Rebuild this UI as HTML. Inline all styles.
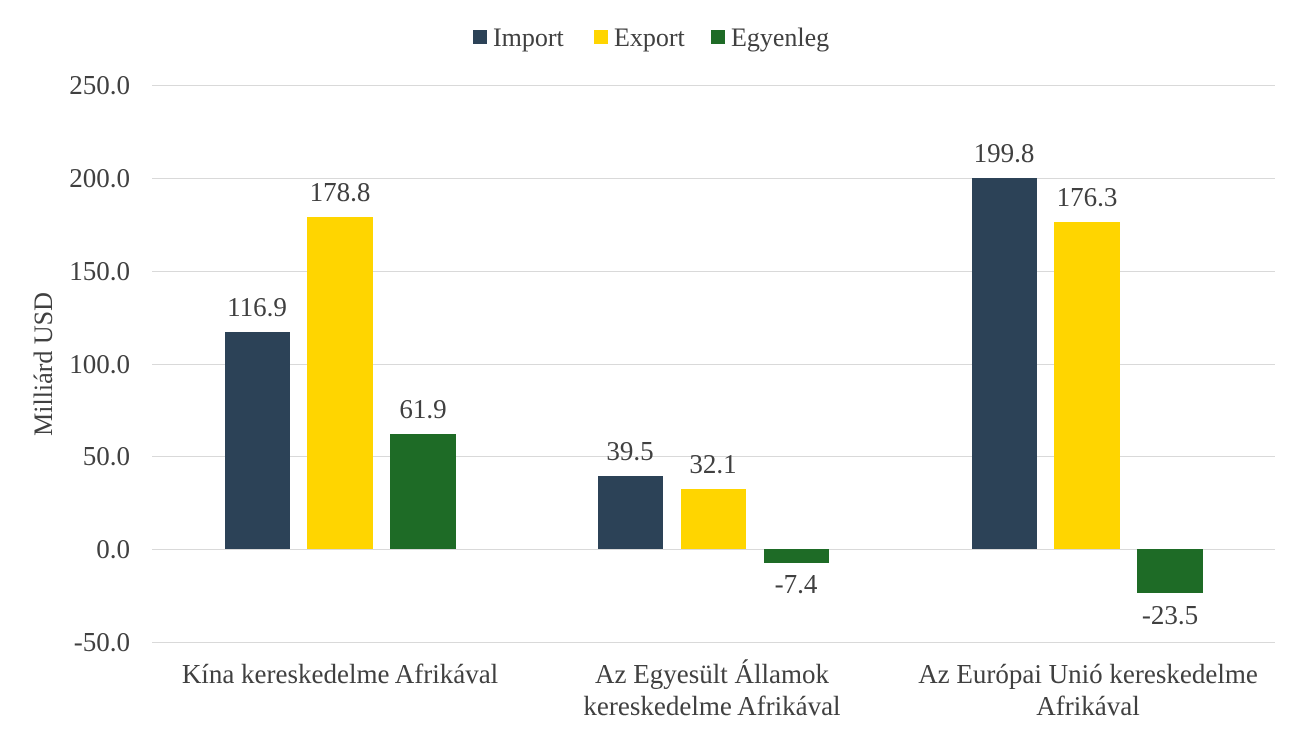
<!DOCTYPE html>
<html><head><meta charset="utf-8"><style>body{margin:0;background:#fff}</style></head><body>
<svg width="1300" height="736" xmlns="http://www.w3.org/2000/svg" font-family="'Liberation Serif',serif" fill="#404040">
<rect width="1300" height="736" fill="#fff"/>
<g stroke="#d9d9d9" stroke-width="1">
<line x1="152" x2="1275" y1="85.5" y2="85.5"/>
<line x1="152" x2="1275" y1="178.5" y2="178.5"/>
<line x1="152" x2="1275" y1="271.5" y2="271.5"/>
<line x1="152" x2="1275" y1="364.5" y2="364.5"/>
<line x1="152" x2="1275" y1="456.5" y2="456.5"/>
<line x1="152" x2="1275" y1="549.5" y2="549.5"/>
<line x1="152" x2="1275" y1="642.5" y2="642.5"/>
</g>
<g font-size="27" text-anchor="end">
<text x="130" y="94">250.0</text>
<text x="130" y="187">200.0</text>
<text x="130" y="280">150.0</text>
<text x="130" y="373">100.0</text>
<text x="130" y="465">50.0</text>
<text x="130" y="558">0.0</text>
<text x="130" y="651">-50.0</text>
</g>
<text transform="translate(52,364) rotate(-90)" font-size="26" text-anchor="middle">Milliárd USD</text>
<g>
<rect x="225" y="332" width="65" height="217" fill="#2C4257"/>
<rect x="307" y="217" width="66" height="332" fill="#FFD500"/>
<rect x="390" y="434" width="66" height="115" fill="#1E6B26"/>
<rect x="598" y="476" width="65" height="73" fill="#2C4257"/>
<rect x="681" y="489" width="65" height="60" fill="#FFD500"/>
<rect x="764" y="549" width="65" height="14" fill="#1E6B26"/>
<rect x="972" y="178" width="65" height="371" fill="#2C4257"/>
<rect x="1054" y="222" width="66" height="327" fill="#FFD500"/>
<rect x="1137" y="549" width="66" height="44" fill="#1E6B26"/>
</g>
<g font-size="27" text-anchor="middle">
<text x="257" y="316">116.9</text>
<text x="340" y="201">178.8</text>
<text x="423" y="418">61.9</text>
<text x="630" y="460">39.5</text>
<text x="713" y="473">32.1</text>
<text x="796" y="593">-7.4</text>
<text x="1004" y="162">199.8</text>
<text x="1087" y="206">176.3</text>
<text x="1170" y="624">-23.5</text>
<text x="340" y="683">Kína kereskedelme Afrikával</text>
<text x="712" y="683">Az Egyesült Államok</text>
<text x="712" y="715">kereskedelme Afrikával</text>
<text x="1088" y="683">Az Európai Unió kereskedelme</text>
<text x="1088" y="715">Afrikával</text>
</g>
<g font-size="26">
<rect x="473" y="30" width="14" height="14" fill="#2C4257"/><text x="493" y="46">Import</text>
<rect x="594" y="30" width="14" height="14" fill="#FFD500"/><text x="614" y="46">Export</text>
<rect x="711" y="30" width="14" height="14" fill="#1E6B26"/><text x="731" y="46">Egyenleg</text>
</g>
</svg>
</body></html>
